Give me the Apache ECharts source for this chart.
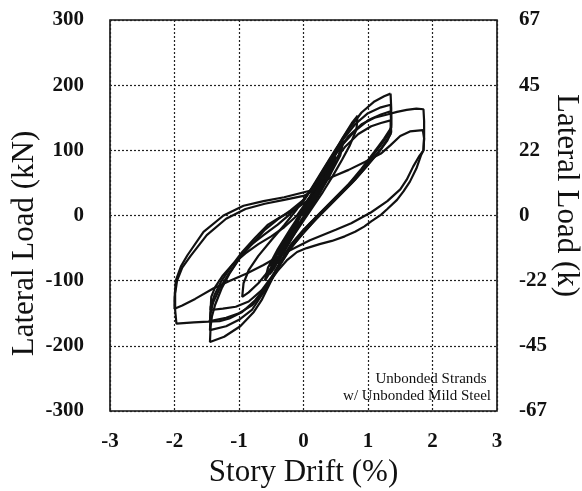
<!DOCTYPE html>
<html>
<head>
<meta charset="utf-8">
<script src="https://cdn.jsdelivr.net/npm/echarts@6/dist/echarts.min.js"></script>
<style>
  html, body { margin: 0; padding: 0; background: #fff; }
  #main { width: 582px; height: 491px; }
</style>
</head>
<body>
<div id="main"></div>
<script>
// tick labels
var driftTicks = [-3, -2, -1, 0, 1, 2, 3];
var kNTicks = [-300, -200, -100, 0, 100, 200, 300];
var kipTicks = ['-67', '-45', '-22', '0', '22', '45', '67'];

// story drift (%), lateral load (kN), in test order
// small cycles in the middle
var loopSmall = [
  [0, 0], [0.08, 20], [0.18, 42],
  [0.16, 32], [0.08, 14], [0, -4], [-0.1, -20], [-0.22, -42],
  [-0.2, -30], [-0.1, -12], [0, 8], [0.1, 28], [0.22, 50],
  [0.2, 38], [0.1, 17], [0, -4], [-0.14, -28], [-0.3, -56],
  [-0.27, -40], [-0.15, -18], [0, 8], [0.15, 36], [0.34, 72],
  [0.31, 56], [0.2, 32], [0.05, 6], [-0.1, -18], [-0.25, -44], [-0.4, -74],
  [-0.36, -56], [-0.22, -30], [-0.05, -2], [0.1, 24], [0.25, 52], [0.4, 82],
  [0.37, 64], [0.22, 36], [0.06, 8], [-0.12, -22], [-0.3, -52], [-0.47, -84],
  [-0.42, -62], [-0.26, -34], [-0.08, -6], [0.1, 26], [0.3, 62], [0.5, 98],
  [0.46, 76], [0.32, 50], [0.16, 22], [0, -4], [-0.16, -30], [-0.34, -58], [-0.52, -90],
  [-0.48, -68], [-0.32, -40], [-0.14, -12], [0.04, 16], [0.24, 50], [0.44, 86], [0.58, 110],
  [0.54, 88], [0.4, 60], [0.24, 32], [0.08, 6], [-0.08, -18], [-0.26, -46], [-0.42, -72], [-0.6, -100],
  [-0.55, -80], [-0.42, -58], [-0.28, -36], [-0.12, -12], [0.05, 14], [0.22, 40], [0.38, 68], [0.5, 90],
  [0.44, 70], [0.3, 46], [0.14, 20], [-0.04, -8], [-0.2, -34], [-0.36, -62], [-0.5, -88],
  [-0.46, -66], [-0.3, -38], [-0.12, -8], [0.06, 20], [0.26, 54], [0.46, 90], [0.62, 115],
  [0.57, 92], [0.42, 64], [0.26, 38], [0.1, 12], [-0.06, -14], [-0.22, -40], [-0.4, -68], [-0.58, -95],
  [-0.55, -80], [-0.4, -52], [-0.2, -20], [0, 10], [0.2, 44], [0.4, 82], [0.6, 118], [0.75, 142], [0.84, 153]
];

// cycle to about 0.8 / -1.0 %
var loopMid = [
  [0.84, 153], [0.82, 132], [0.72, 108], [0.6, 86], [0.45, 60], [0.3, 36], [0.15, 14], [0, -8],
  [-0.15, -30], [-0.3, -52], [-0.5, -80], [-0.7, -104], [-0.85, -118], [-0.95, -125],
  [-0.93, -104], [-0.85, -84], [-0.7, -62], [-0.5, -38], [-0.3, -15], [-0.1, 10], [0.1, 38],
  [0.3, 70], [0.5, 102], [0.7, 132], [0.9, 158], [1.1, 175], [1.25, 183], [1.35, 187]
];

// four cycles to about 1.35 / -1.45 %
var loop135a = [
  [1.35, 187], [1.36, 165], [1.36, 135], [1.25, 118], [1.1, 98], [0.9, 72], [0.7, 48], [0.5, 28],
  [0.3, 8], [0.1, -12], [-0.1, -35], [-0.3, -62], [-0.5, -100], [-0.65, -130], [-0.77, -148],
  [-0.98, -170], [-1.23, -186], [-1.45, -194],
  [-1.44, -170], [-1.42, -155], [-1.37, -137], [-1.27, -112], [-1.14, -88], [-1.0, -67],
  [-0.84, -47], [-0.62, -30], [-0.4, -14], [-0.2, 3], [0, 22], [0.2, 52], [0.4, 85],
  [0.6, 115], [0.8, 140], [1.0, 157], [1.2, 166], [1.35, 170]
];
var loop135b = [
  [1.35, 170], [1.36, 150], [1.35, 130], [1.2, 108], [1.0, 82], [0.8, 58], [0.6, 38], [0.4, 18],
  [0.2, -2], [0, -22], [-0.2, -45], [-0.4, -78], [-0.6, -115], [-0.8, -145], [-1.0, -160],
  [-1.2, -170], [-1.45, -176],
  [-1.44, -150], [-1.4, -133], [-1.3, -112], [-1.15, -88], [-1.0, -66], [-0.8, -44],
  [-0.6, -22], [-0.4, -6], [-0.2, 8], [0, 24], [0.2, 50], [0.4, 80], [0.6, 108],
  [0.8, 130], [1.0, 146], [1.2, 155], [1.35, 160]
];
var loop135c = [
  [1.35, 160], [1.36, 140], [1.35, 125], [1.2, 102], [1.0, 78], [0.8, 55], [0.6, 35], [0.4, 15],
  [0.2, -5], [0, -27], [-0.2, -50], [-0.4, -82], [-0.6, -115], [-0.8, -138], [-1.0, -150],
  [-1.2, -157], [-1.45, -162],
  [-1.44, -140], [-1.38, -122], [-1.28, -102], [-1.12, -78], [-0.95, -56], [-0.75, -34],
  [-0.55, -14], [-0.35, -2], [-0.15, 8], [0.05, 22], [0.25, 50], [0.45, 80], [0.65, 106],
  [0.85, 125], [1.05, 137], [1.2, 142], [1.35, 146]
];
var loop135d = [
  [1.35, 146], [1.36, 128], [1.3, 115], [1.15, 95], [0.95, 72], [0.75, 50], [0.55, 30], [0.35, 10],
  [0.15, -10], [-0.05, -32], [-0.25, -57], [-0.45, -88], [-0.65, -115], [-0.85, -132],
  [-1.05, -140], [-1.25, -143], [-1.44, -145]
];

// cycles to about 1.9 / -2.0 %
var loop19a = [
  [-1.44, -145], [-1.43, -125], [-1.37, -110], [-1.25, -92], [-1.1, -75], [-0.9, -58],
  [-0.7, -44], [-0.5, -32], [-0.3, -18], [-0.1, 0], [0.1, 28], [0.3, 62], [0.5, 95],
  [0.7, 122], [0.9, 140], [1.1, 150], [1.3, 155], [1.45, 159], [1.6, 162], [1.75, 164], [1.86, 163],
  [1.87, 145], [1.87, 120], [1.86, 100], [1.82, 92], [1.75, 72], [1.65, 52], [1.55, 37],
  [1.45, 24], [1.3, 10], [1.2, 1], [1.05, -9], [0.94, -17], [0.8, -25], [0.64, -32],
  [0.44, -39], [0.25, -44], [0.05, -50], [-0.1, -56], [-0.25, -68], [-0.4, -85], [-0.55, -105],
  [-0.75, -130], [-0.95, -148], [-1.15, -158], [-1.3, -162], [-1.48, -163], [-1.7, -164], [-1.97, -166],
  [-1.99, -145], [-1.99, -120], [-1.96, -100], [-1.88, -80], [-1.75, -62], [-1.5, -30],
  [-1.2, -5], [-0.9, 10], [-0.6, 18], [-0.3, 24], [0, 30], [0.12, 36]
];
var loop19b = [
  [0.12, 36], [0.25, 48], [0.44, 59], [0.7, 70], [0.95, 82], [1.2, 95], [1.35, 108], [1.5, 122],
  [1.65, 129], [1.85, 131],
  [1.87, 118], [1.86, 100], [1.8, 92], [1.7, 75], [1.6, 55], [1.5, 40], [1.3, 22], [1.05, 5],
  [0.74, -12], [0.5, -22], [0.3, -30], [0.1, -38], [-0.1, -48], [-0.3, -58], [-0.62, -76],
  [-0.88, -89], [-1.14, -100], [-1.4, -112], [-1.68, -128], [-1.88, -138], [-2.0, -143],
  [-2.0, -128], [-1.98, -100], [-1.9, -78], [-1.8, -61], [-1.55, -25], [-1.24, 0],
  [-0.93, 15], [-0.62, 22], [-0.3, 28], [0.1, 38], [0.25, 55]
];

var loops = [loopSmall, loopMid, loop135a, loop135b, loop135c, loop135d, loop19a, loop19b];

var chartDom = document.getElementById('main');
var myChart = echarts.init(chartDom);
var option;

var tickFont = {
  fontFamily: 'Liberation Serif',
  fontWeight: 'bold',
  fontSize: 21,
  color: '#111'
};
var nameFont = {
  fontFamily: 'Liberation Serif',
  fontSize: 31,
  color: '#111'
};

var series = loops.map(function (d, i) {
  return {
    name: 'loop' + i,
    type: 'line',
    data: d,
    showSymbol: false,
    symbol: 'none',
    lineStyle: { color: '#111', width: 2.2 },
    z: 3
  };
});

option = {
  animation: false,
  backgroundColor: '#fff',
  grid: {
    left: 110,
    right: 85,
    top: 20,
    bottom: 80,
    outerBoundsMode: 'none',
    show: true,
    borderColor: '#111',
    borderWidth: 1.6
  },
  xAxis: {
    type: 'value',
    min: driftTicks[0],
    max: driftTicks[driftTicks.length - 1],
    interval: 1,
    name: 'Story Drift (%)',
    nameLocation: 'middle',
    nameGap: 42,
    nameTextStyle: nameFont,
    axisLine: { show: false },
    axisTick: { show: false },
    axisLabel: Object.assign({ margin: 20 }, tickFont),
    splitLine: { show: true, lineStyle: { color: '#222', type: [2, 2], width: 1.2 } }
  },
  yAxis: [{
    type: 'value',
    min: kNTicks[0],
    max: kNTicks[kNTicks.length - 1],
    interval: 100,
    name: 'Lateral Load (kN)',
    nameLocation: 'middle',
    nameGap: 70,
    nameMoveOverlap: false,
    nameTextStyle: Object.assign({ padding: [0, 56, 0, 0] }, nameFont),
    axisLine: { show: false },
    axisTick: { show: false },
    axisLabel: Object.assign({ margin: 26 }, tickFont),
    splitLine: { show: true, lineStyle: { color: '#222', type: [2, 2], width: 1.2 } }
  }, {
    type: 'value',
    position: 'right',
    min: kNTicks[0],
    max: kNTicks[kNTicks.length - 1],
    interval: 100,
    name: 'Lateral Load (k)',
    nameLocation: 'middle',
    nameRotate: -90,
    nameGap: 54,
    nameMoveOverlap: false,
    nameTextStyle: Object.assign({ padding: [0, 40, 0, 0] }, nameFont),
    axisLine: { show: false },
    axisTick: { show: false },
    axisLabel: Object.assign({
      margin: 22,
      formatter: function (v) {
        return kipTicks[kNTicks.indexOf(v)];
      }
    }, tickFont),
    splitLine: { show: false }
  }],
  graphic: [{
    type: 'text',
    x: 431,
    y: 379,
    style: {
      text: 'Unbonded Strands',
      fontFamily: 'Liberation Serif',
      fontSize: 15,
      fill: '#111',
      textAlign: 'center',
      textVerticalAlign: 'middle'
    },
    z: 10
  }, {
    type: 'text',
    x: 417,
    y: 396,
    style: {
      text: 'w/ Unbonded Mild Steel',
      fontFamily: 'Liberation Serif',
      fontSize: 15,
      fill: '#111',
      textAlign: 'center',
      textVerticalAlign: 'middle'
    },
    z: 10
  }],
  series: series
};

option && myChart.setOption(option);
</script>
</body>
</html>
